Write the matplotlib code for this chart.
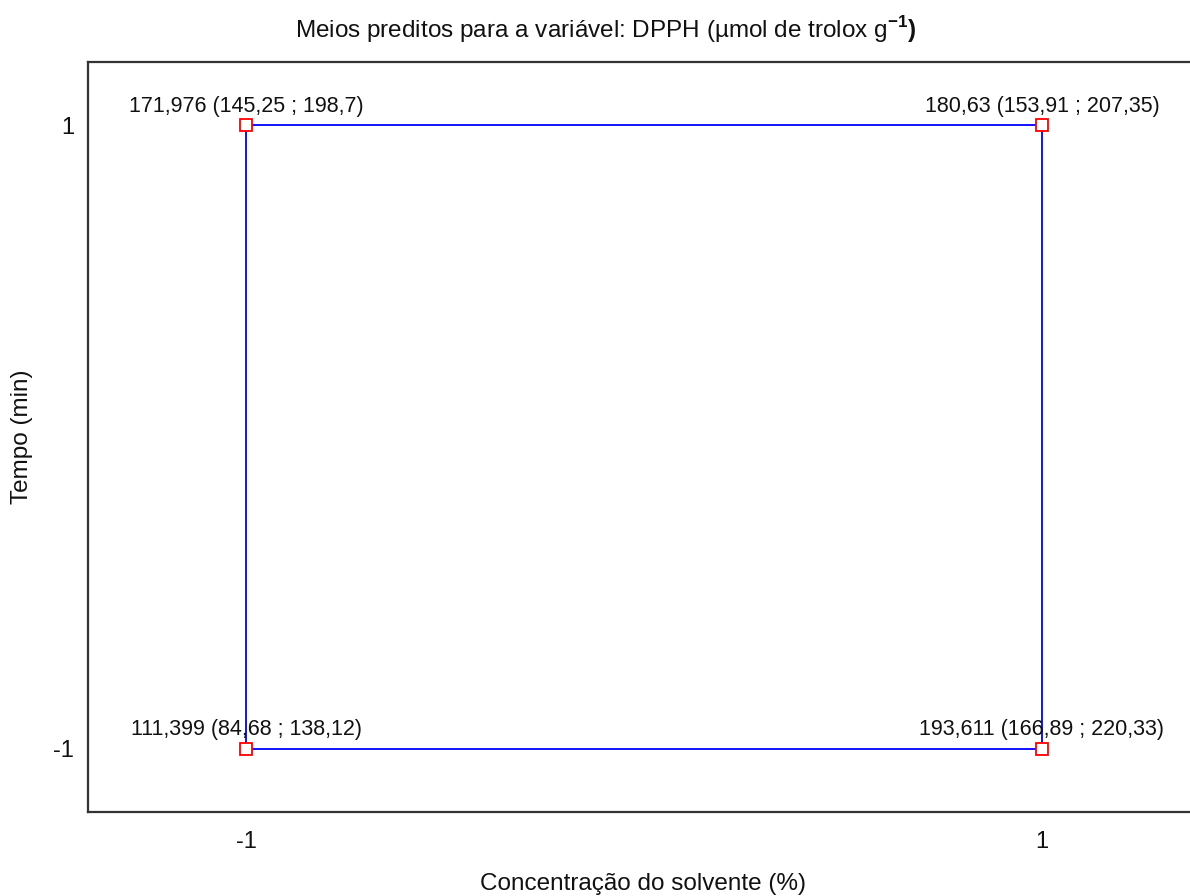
import matplotlib
matplotlib.use("Agg")
import matplotlib.pyplot as plt

plt.rcParams["font.family"] = ["Liberation Sans", "DejaVu Sans"]
plt.rcParams["mathtext.fontset"] = "custom"
plt.rcParams["mathtext.rm"] = "Liberation Sans"
plt.rcParams["mathtext.bf"] = "Liberation Sans:bold"

# Coded factor levels
concentracao = [-1, 1, -1, 1]
tempo = [1, 1, -1, -1]
# Predicted means with confidence interval bounds
media = ["171,976", "180,63", "111,399", "193,611"]
inferior = ["145,25", "153,91", "84,68", "166,89"]
superior = ["198,7", "207,35", "138,12", "220,33"]
x_ticks = [-1, 1]
y_ticks = [-1, 1]

W, H = 1190, 896
fig = plt.figure(figsize=(W / 100, H / 100), dpi=100)
left, right, top, bottom = 88, 1200, 62, 812
ax = fig.add_axes([left / W, 1 - bottom / H, (right - left) / W, (bottom - top) / H])
ax.set_xlim(-1.397, 1.397)
ax.set_ylim(-1.203, 1.203)

line_kw = dict(color="#0000ff", lw=1.3, zorder=2)
# lines joining points sharing the same time level
for t in sorted(set(tempo)):
    xs = [c for c, tt in zip(concentracao, tempo) if tt == t]
    ys = [tt for tt in tempo if tt == t]
    ax.plot(xs, ys, **line_kw)
# lines joining points sharing the same concentration level
for c in sorted(set(concentracao)):
    ys = [tt for cc, tt in zip(concentracao, tempo) if cc == c]
    xs = [cc for cc in concentracao if cc == c]
    ax.plot(xs, ys, **line_kw)

ax.plot(concentracao, tempo, ls="none", marker="s", ms=8.5, mfc="white",
        mec="#ff0000", mew=1.3, zorder=3, clip_on=False)

for x, y, m, lo, hi in zip(concentracao, tempo, media, inferior, superior):
    ax.annotate(f"{m} ({lo} ; {hi})", (x, y), xytext=(0, 6),
                textcoords="offset points", ha="center", va="bottom",
                fontsize=15.5, color="#111111")

ax.set_xticks(x_ticks)
ax.set_yticks(y_ticks)
ax.set_xticklabels([str(v) for v in x_ticks])
ax.set_yticklabels([str(v) for v in y_ticks])
ax.tick_params(length=0, labelsize=17, colors="#111111")
ax.tick_params(axis="y", pad=10)
ax.tick_params(axis="x", pad=14)

for s in ("left", "top", "bottom"):
    ax.spines[s].set_color("#333333")
    ax.spines[s].set_linewidth(1.6)
ax.spines["right"].set_visible(False)

fig.text(606 / W, 1 - 30 / H,
         r"Meios preditos para a variável: DPPH (µmol de trolox g$^{\mathbf{-1}}$$\mathbf{)}$",
         ha="center", va="center", fontsize=17.5, color="#111111")
fig.text(643 / W, 1 - 884 / H, "Concentração do solvente (%)",
         ha="center", va="center", fontsize=17.5, color="#111111")
fig.text(22 / W, 1 - 437 / H, "Tempo (min)", rotation=90,
         ha="center", va="center", fontsize=17.5, color="#111111")

fig.savefig("out.png", dpi=100, facecolor="white")
